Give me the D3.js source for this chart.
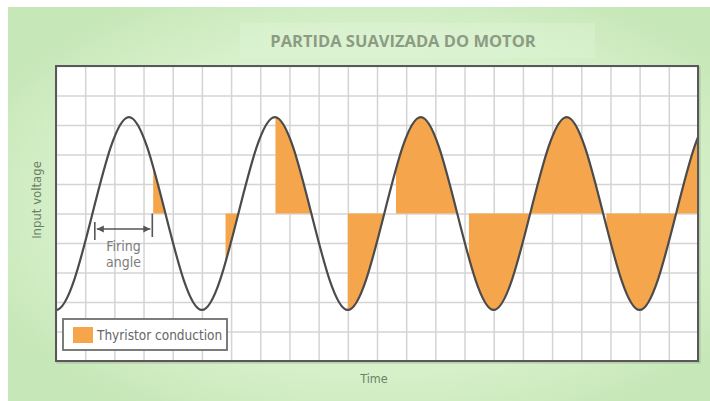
<!DOCTYPE html>
<html>
<head>
<meta charset="utf-8">
<script src="https://cdn.jsdelivr.net/npm/d3@7"></script>
<style>
body { margin: 0; background: #fff; }
svg { display: block; }
.narrow { font-family: "Liberation Sans Narrow", "DejaVu Sans Condensed", sans-serif; }
.grid line { stroke: #d4d4d4; stroke-width: 1.5; }
.grid path { display: none; }
</style>
</head>
<body>
<svg width="710" height="401"></svg>
<script>
// key points of the input voltage, in grid units (troughs, zero crossings, peaks)
var waveTime = [-1.25, 0, 1.25, 2.5, 3.75, 5, 6.25, 7.5, 8.75, 10, 11.25, 12.5,
    13.75, 15, 16.25, 17.5, 18.75, 20, 21.25, 22.5, 23.75];
var waveVoltage = [0, -3.27, 0, 3.27, 0, -3.27, 0, 3.27, 0, -3.27, 0, 3.27,
    0, -3.27, 0, 3.27, 0, -3.27, 0, 3.27, 0];

// thyristor conduction windows, one per half cycle
var conductionStart = [3.33, 5.81, 7.52, 10.0, 11.65, 14.15, 16.28, 18.86, 21.25];
var conductionEnd = [3.75, 6.25, 8.75, 11.25, 13.75, 16.25, 18.75, 21.25, 22];

// firing angle marker (first half cycle)
var firingAngle = [1.33, 3.30];

var timeDomain = [0, 22];
var voltageDomain = [-5, 5];

var svg = d3.select('svg');
var box = {l: 56, r: 698, t: 66, b: 361};
var orange = '#f5a64c';

var x = d3.scaleLinear().domain(timeDomain).range([box.l, box.r]);
var y = d3.scaleLinear().domain(voltageDomain).range([box.b, box.t]);

// background panel
var defs = svg.append('defs');
var grad = defs.append('radialGradient')
    .attr('id', 'bg')
    .attr('cx', '52%').attr('cy', '50%').attr('r', '62%');
grad.append('stop').attr('offset', '0%').attr('stop-color', '#e6f7dc');
grad.append('stop').attr('offset', '70%').attr('stop-color', '#d6f0ca');
grad.append('stop').attr('offset', '100%').attr('stop-color', '#c6e7b7');

svg.append('rect')
    .attr('x', 8).attr('y', 7)
    .attr('width', 702).attr('height', 394)
    .attr('fill', 'url(#bg)');

svg.append('rect')
    .attr('x', 240).attr('y', 23)
    .attr('width', 355).attr('height', 35)
    .attr('fill', '#e2f5da')
    .attr('opacity', 0.35);

svg.append('text')
    .attr('x', 403).attr('y', 47)
    .attr('text-anchor', 'middle')
    .style('font-family', '"Open Sans", sans-serif')
    .style('font-weight', 700)
    .style('font-size', '16.5px')
    .style('fill', '#8c9c84')
    .text('PARTIDA SUAVIZADA DO MOTOR');

// plot area
defs.append('clipPath').attr('id', 'plotClip')
    .append('rect')
    .attr('x', box.l).attr('y', box.t)
    .attr('width', box.r - box.l).attr('height', box.b - box.t);

svg.append('rect')
    .attr('x', box.l + 1.5).attr('y', box.t + 1.5)
    .attr('width', box.r - box.l).attr('height', box.b - box.t)
    .attr('fill', 'none')
    .attr('stroke', '#9aae90')
    .attr('stroke-width', 2)
    .attr('opacity', 0.6);

svg.append('rect')
    .attr('x', box.l).attr('y', box.t)
    .attr('width', box.r - box.l).attr('height', box.b - box.t)
    .attr('fill', '#fff');

svg.append('g')
    .attr('class', 'grid')
    .attr('transform', 'translate(0,' + box.b + ')')
    .call(d3.axisBottom(x).ticks(22).tickSize(-(box.b - box.t)).tickFormat(''));

svg.append('g')
    .attr('class', 'grid')
    .attr('transform', 'translate(' + box.l + ',0)')
    .call(d3.axisLeft(y).ticks(10).tickSize(-(box.r - box.l)).tickFormat(''));

var wave = waveTime.map(function(t, i) { return [t, waveVoltage[i]]; });

var line = d3.line()
    .x(function(d) { return x(d[0]); })
    .y(function(d) { return y(d[1]); })
    .curve(d3.curveNatural);

var area = d3.area()
    .x(function(d) { return x(d[0]); })
    .y0(y(0))
    .y1(function(d) { return y(d[1]); })
    .curve(d3.curveNatural);

defs.append('clipPath').attr('id', 'waveClip')
    .append('path')
    .attr('d', area(wave));

var plot = svg.append('g').attr('clip-path', 'url(#plotClip)');

plot.append('g')
    .attr('clip-path', 'url(#waveClip)')
    .selectAll('rect')
    .data(conductionStart)
    .enter().append('rect')
    .attr('x', function(d) { return x(d); })
    .attr('y', box.t)
    .attr('width', function(d, i) { return x(conductionEnd[i]) - x(d); })
    .attr('height', box.b - box.t)
    .attr('fill', orange);

plot.append('path')
    .attr('d', line(wave))
    .attr('fill', 'none')
    .attr('stroke', '#4b4b4b')
    .attr('stroke-width', 2.2);

// firing angle annotation
var ann = svg.append('g').attr('stroke', '#555').attr('stroke-width', 1.6);
var arrowY = 229;
ann.append('line')
    .attr('x1', x(firingAngle[0])).attr('x2', x(firingAngle[0]))
    .attr('y1', 222).attr('y2', 240);
ann.append('line')
    .attr('x1', x(firingAngle[1])).attr('x2', x(firingAngle[1]))
    .attr('y1', y(0)).attr('y2', 237);
ann.append('line')
    .attr('x1', x(firingAngle[0]) + 2).attr('x2', x(firingAngle[1]) - 2)
    .attr('y1', arrowY).attr('y2', arrowY);
[[firingAngle[0], 1], [firingAngle[1], -1]].forEach(function(a) {
    var px = x(a[0]) + a[1] * 2;
    ann.append('path')
        .attr('d', 'M' + px + ',' + arrowY + 'l' + (a[1] * 7) + ',-3.5v7z')
        .attr('fill', '#555')
        .attr('stroke', 'none');
});

var midX = (x(firingAngle[0]) + x(firingAngle[1])) / 2;
svg.append('text')
    .attr('class', 'narrow')
    .attr('x', midX).attr('y', 251)
    .attr('text-anchor', 'middle')
    .style('font-size', '14px')
    .style('fill', '#7d7d7d')
    .text('Firing');
svg.append('text')
    .attr('class', 'narrow')
    .attr('x', midX).attr('y', 267)
    .attr('text-anchor', 'middle')
    .style('font-size', '14px')
    .style('fill', '#7d7d7d')
    .text('angle');

// legend
var lg = svg.append('g').attr('transform', 'translate(' + (box.l + 7) + ',' + (box.b - 42) + ')');
lg.append('rect')
    .attr('width', 164).attr('height', 31)
    .attr('fill', '#fff')
    .attr('stroke', '#6e6e6e')
    .attr('stroke-width', 1.8);
lg.append('rect')
    .attr('x', 10).attr('y', 8)
    .attr('width', 20).attr('height', 16)
    .attr('fill', orange);
lg.append('text')
    .attr('class', 'narrow')
    .attr('x', 34).attr('y', 21)
    .style('font-size', '13.5px')
    .style('fill', '#666')
    .text('Thyristor conduction');

// border on top
svg.append('rect')
    .attr('x', box.l).attr('y', box.t)
    .attr('width', box.r - box.l).attr('height', box.b - box.t)
    .attr('fill', 'none')
    .attr('stroke', '#585858')
    .attr('stroke-width', 2);

// axis titles
svg.append('text')
    .attr('class', 'narrow')
    .attr('transform', 'translate(41,' + 200 + ') rotate(-90)')
    .attr('text-anchor', 'middle')
    .style('font-size', '13px')
    .style('fill', '#6c8065')
    .text('Input voltage');

svg.append('text')
    .attr('class', 'narrow')
    .attr('x', 374).attr('y', 383)
    .attr('text-anchor', 'middle')
    .style('font-size', '12.5px')
    .style('fill', '#6c8065')
    .text('Time');
</script>
</body>
</html>
